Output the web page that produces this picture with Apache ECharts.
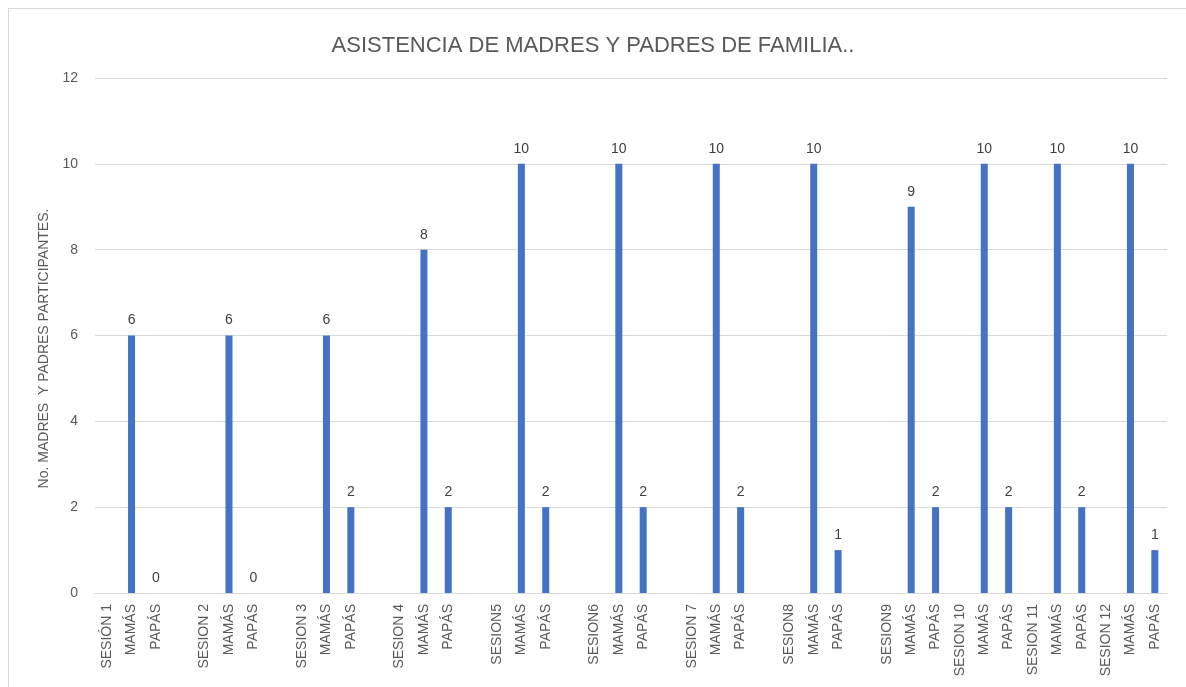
<!DOCTYPE html>
<html>
<head>
<meta charset="utf-8">
<script src="https://cdn.jsdelivr.net/npm/echarts@6/dist/echarts.min.js"></script>
<style>
  html, body { margin: 0; padding: 0; background: #fff; }
  #chart { width: 1186px; height: 687px; }
  #frame { position: absolute; left: 8px; top: 8px; width: 1180px; height: 690px; border: 1px solid #d9d9d9; box-sizing: border-box; pointer-events: none; }
</style>
</head>
<body>
<div id="chart"></div>
<div id="frame"></div>
<script>
// x axis categories, '' = empty slot between sessions
var categories = [
    'SESIÓN 1', 'MAMÁS', 'PAPÁS', '',
    'SESION 2', 'MAMÁS', 'PAPÁS', '',
    'SESION 3', 'MAMÁS', 'PAPÁS', '',
    'SESION 4', 'MAMÁS', 'PAPÁS', '',
    'SESION5', 'MAMÁS', 'PAPÁS', '',
    'SESION6', 'MAMÁS', 'PAPÁS', '',
    'SESION 7', 'MAMÁS', 'PAPÁS', '',
    'SESION8', 'MAMÁS', 'PAPÁS', '',
    'SESION9', 'MAMÁS', 'PAPÁS',
    'SESION 10', 'MAMÁS', 'PAPÁS',
    'SESION 11', 'MAMÁS', 'PAPÁS',
    'SESION 12', 'MAMÁS', 'PAPÁS'
];
var asistencia = [
    null, 6, 0, null,
    null, 6, 0, null,
    null, 6, 2, null,
    null, 8, 2, null,
    null, 10, 2, null,
    null, 10, 2, null,
    null, 10, 2, null,
    null, 10, 1, null,
    null, 9, 2,
    null, 10, 2,
    null, 10, 2,
    null, 10, 1
];
var yTicks = { min: 0, max: 12, interval: 2 };

var chart = echarts.init(document.getElementById('chart'));
chart.setOption({
    animation: false,
    textStyle: { fontFamily: 'Liberation Sans, Arial, sans-serif' },
    title: {
        text: 'ASISTENCIA DE MADRES Y PADRES DE FAMILIA..',
        left: 'center',
        top: 30,
        textStyle: { fontSize: 22, fontWeight: 'normal', color: '#595959' }
    },
    grid: { left: 95, right: 19, top: 78, bottom: 94 },
    xAxis: {
        type: 'category',
        data: categories,
        axisTick: { show: false },
        axisLine: { lineStyle: { color: '#d9d9d9', width: 1 } },
        axisLabel: { interval: 0, rotate: 90, color: '#595959', fontSize: 14, margin: 11 }
    },
    yAxis: {
        type: 'value',
        min: yTicks.min,
        max: yTicks.max,
        interval: yTicks.interval,
        name: 'No. MADRES  Y PADRES PARTICIPANTES.',
        nameLocation: 'middle',
        nameGap: 42,
        nameTextStyle: { color: '#595959', fontSize: 14, padding: [0, 26, 0, 0] },
        axisLine: { show: false },
        axisTick: { show: false },
        axisLabel: { color: '#595959', fontSize: 14, margin: 17 },
        splitLine: { lineStyle: { color: '#d9d9d9', width: 1 } }
    },
    series: [{
        type: 'bar',
        data: asistencia,
        barWidth: 7,
        itemStyle: { color: '#4472c4' },
        label: { show: true, position: 'top', color: '#404040', fontSize: 14, distance: 8 }
    }]
});
</script>
</body>
</html>
